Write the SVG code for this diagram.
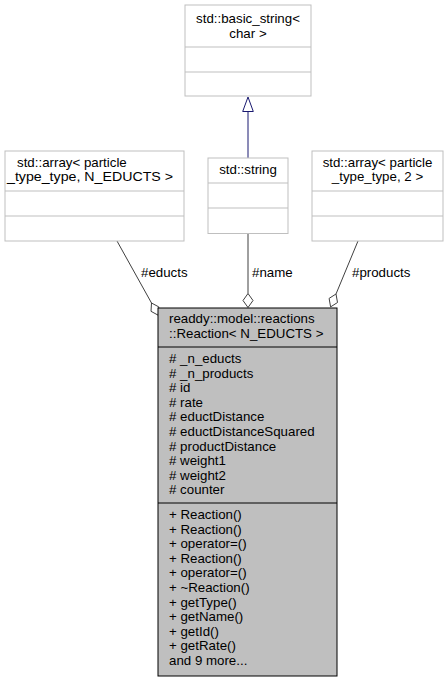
<svg xmlns="http://www.w3.org/2000/svg" width="447" height="683" viewBox="0 0 447 683">
<style>
text{font-family:"Liberation Sans",Arial,sans-serif;font-size:13.3px;fill:#000}
.c{text-anchor:middle}
.box{fill:#fff;stroke:#bfbfbf;stroke-width:1}
.div{stroke:#bfbfbf;stroke-width:1}
.mbox{fill:#bfbfbf;stroke:#000;stroke-width:1}
.mdiv{stroke:#000;stroke-width:1}
.edge{stroke:#404040;stroke-width:1;fill:none}
.dia{fill:#fff;stroke:#404040;stroke-width:1}
.inh{stroke:#191970;stroke-width:1;fill:none}
.tri{fill:#fff;stroke:#191970;stroke-width:1}
</style>
<rect width="447" height="683" fill="#fff"/>
<g id="connectors">
<line class="inh" x1="248" y1="158" x2="248" y2="111.5"/>
<polygon class="tri" points="248,97 253.3,111.5 242.7,111.5"/>
<line class="edge" x1="117" y1="241" x2="151.5" y2="303"/>
<polygon class="dia" points="151.5,303 158.8,306.9 158.3,315.3 151,311.3"/>
<line class="edge" x1="248" y1="233.5" x2="248" y2="293.5"/>
<polygon class="dia" points="248,293.5 253,300.5 248,307.5 243,300.5"/>
<line class="edge" x1="358" y1="241" x2="336" y2="294"/>
<polygon class="dia" points="336,294 337.5,302.5 330.6,306.9 329.1,298.4"/>
<text x="141" y="277">#educts</text>
<text x="252" y="277">#name</text>
<text x="352" y="277">#products</text>
</g>
<g id="basic_string">
<rect class="box" x="185" y="5" width="126" height="91"/>
<line class="div" x1="185" y1="47" x2="311" y2="47"/>
<line class="div" x1="185" y1="72" x2="311" y2="72"/>
<text class="c" x="248" y="23">std::basic_string&lt;</text>
<text class="c" x="248" y="37.5">char &gt;</text>
</g>
<g id="string">
<rect class="box" x="208" y="158" width="80" height="75.5"/>
<line class="div" x1="208" y1="183" x2="288" y2="183"/>
<line class="div" x1="208" y1="208" x2="288" y2="208"/>
<text class="c" x="248" y="174">std::string</text>
</g>
<g id="array_educts">
<rect class="box" x="5" y="151" width="179" height="90"/>
<line class="div" x1="5" y1="191" x2="184" y2="191"/>
<line class="div" x1="5" y1="216" x2="184" y2="216"/>
<text x="17" y="167">std::array&lt; particle</text>
<text x="7" y="181" textLength="166" lengthAdjust="spacingAndGlyphs">_type_type, N_EDUCTS &gt;</text>
</g>
<g id="array_products">
<rect class="box" x="312" y="151" width="131" height="90"/>
<line class="div" x1="312" y1="191" x2="443" y2="191"/>
<line class="div" x1="312" y1="216" x2="443" y2="216"/>
<text class="c" x="377.5" y="167">std::array&lt; particle</text>
<text class="c" x="377.5" y="181">_type_type, 2 &gt;</text>
</g>
<g id="reaction">
<rect class="mbox" x="158" y="308" width="179" height="368"/>
<line class="mdiv" x1="158" y1="347" x2="337" y2="347"/>
<line class="mdiv" x1="158" y1="503" x2="337" y2="503"/>
<text x="169" y="323">readdy::model::reactions</text>
<text x="169" y="337.6">::Reaction&lt; N_EDUCTS &gt;</text>
<text x="169" y="363">#  _n_educts</text>
<text x="169" y="377.6">#  _n_products</text>
<text x="169" y="392.2"># id</text>
<text x="169" y="406.8"># rate</text>
<text x="169" y="421.4"># eductDistance</text>
<text x="169" y="436"># eductDistanceSquared</text>
<text x="169" y="450.6"># productDistance</text>
<text x="169" y="465.2"># weight1</text>
<text x="169" y="479.8"># weight2</text>
<text x="169" y="494.4"># counter</text>
<text x="169" y="519">+ Reaction()</text>
<text x="169" y="533.6">+ Reaction()</text>
<text x="169" y="548.2">+ operator=()</text>
<text x="169" y="562.8">+ Reaction()</text>
<text x="169" y="577.4">+ operator=()</text>
<text x="169" y="592">+ ~Reaction()</text>
<text x="169" y="606.6">+ getType()</text>
<text x="169" y="621.2">+ getName()</text>
<text x="169" y="635.8">+ getId()</text>
<text x="169" y="650.4">+ getRate()</text>
<text x="169" y="665">and 9 more...</text>
</g>
</svg>
